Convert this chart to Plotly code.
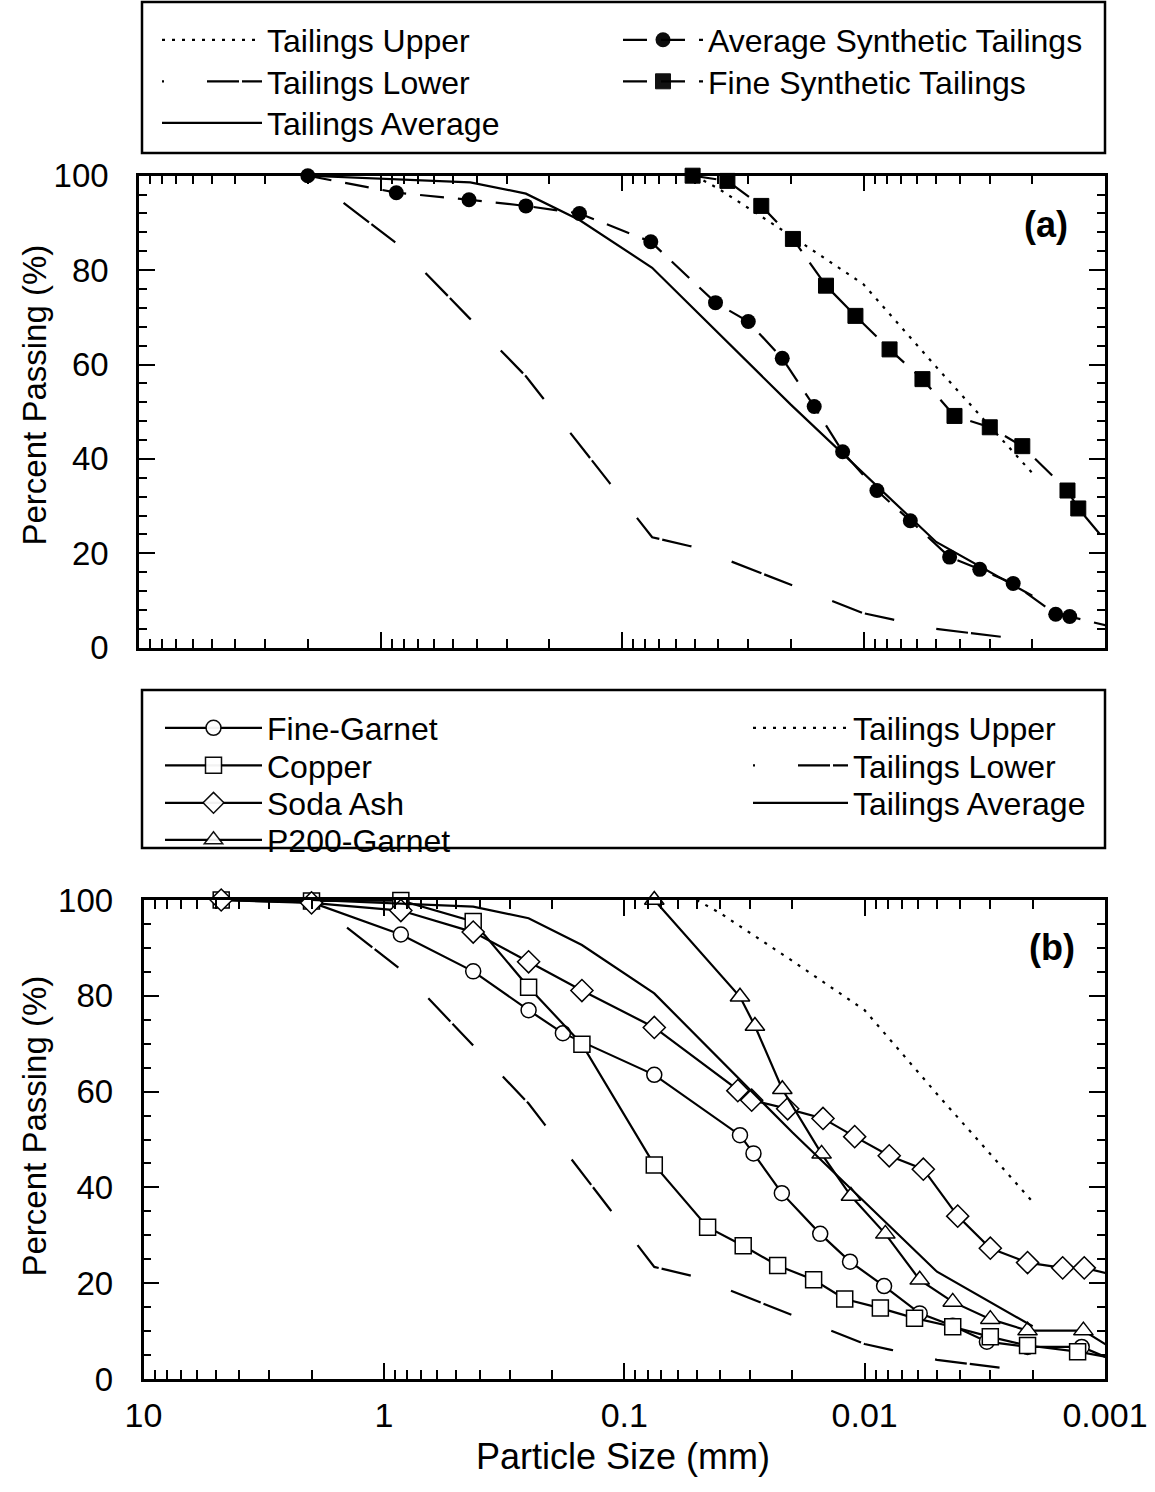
import plotly.graph_objects as go

W, H = 1155, 1492
FONT = "Liberation Sans, Arial, sans-serif"

# ---------------- data ----------------
# Tailings envelope (shared by both panels)
upper_x = [0.05, 0.04, 0.02, 0.01, 0.005, 0.002]
upper_y = [100, 97.3, 87.3, 77.0, 59.5, 37.0]
lower_x = [2.0, 0.85, 0.25, 0.075, 0.05, 0.01, 0.005, 0.002]
lower_y = [100, 85.5, 57.5, 23.4, 21.3, 7.3, 4.0, 1.5]
avg_x = [2.0, 0.425, 0.25, 0.15, 0.075, 0.02, 0.005, 0.002]
avg_y = [100, 98.6, 96.2, 90.6, 80.5, 51.5, 22.4, 11.0]

# Panel (a)
avgsyn_x = [2.0, 0.86, 0.43, 0.25, 0.15, 0.076, 0.041, 0.030, 0.0217, 0.016,
            0.0122, 0.0088, 0.0064, 0.0044, 0.0033, 0.0024, 0.0016, 0.0014, 0.0009]
avgsyn_y = [100, 96.4, 94.9, 93.6, 92.0, 86.0, 73.1, 69.1, 61.3, 51.1,
            41.5, 33.3, 26.9, 19.2, 16.6, 13.6, 7.1, 6.6, 4.2]
finesyn_x = [0.051, 0.0366, 0.0265, 0.0196, 0.0143, 0.0108, 0.0078, 0.0057,
             0.0042, 0.0030, 0.0022, 0.00143, 0.00129, 0.0009]
finesyn_y = [100, 98.9, 93.6, 86.6, 76.7, 70.3, 63.2, 56.9,
             49.1, 46.7, 42.7, 33.3, 29.5, 20.0]

# Panel (b)
garnet_x = [4.75, 2.0, 0.85, 0.425, 0.25, 0.18, 0.075, 0.033, 0.029, 0.0221,
            0.0153, 0.0115, 0.0083, 0.0059, 0.0043, 0.0031, 0.0021, 0.00125, 0.0008]
garnet_y = [100, 99.5, 92.8, 85.1, 77.0, 72.2, 63.5, 50.9, 47.1, 38.8,
            30.3, 24.5, 19.4, 13.7, 11.1, 7.8, 6.7, 6.7, 2.6]
copper_x = [4.75, 2.0, 0.85, 0.425, 0.25, 0.15, 0.075, 0.045, 0.032, 0.023,
            0.0163, 0.0121, 0.0086, 0.0062, 0.0043, 0.0030, 0.0021, 0.0013, 0.0008]
copper_y = [100, 99.8, 99.9, 95.5, 81.8, 69.9, 44.7, 31.7, 27.8, 23.7,
            20.7, 16.7, 14.8, 12.7, 10.9, 8.8, 7.0, 5.7, 3.8]
soda_x = [4.75, 2.0, 0.85, 0.425, 0.25, 0.15, 0.075, 0.0337, 0.0295, 0.0209,
          0.0149, 0.011, 0.0079, 0.0057, 0.0041, 0.0030, 0.0021, 0.0015, 0.00122, 0.0008]
soda_y = [100, 99.4, 97.8, 93.3, 87.1, 81.1, 73.4, 60.2, 58.2, 56.4,
          54.4, 50.6, 46.6, 43.8, 34.0, 27.3, 24.3, 23.2, 23.2, 21.0]
p200_x = [0.075, 0.033, 0.0286, 0.022, 0.0151, 0.0114, 0.0082, 0.0059,
          0.0043, 0.0030, 0.0021, 0.00123, 0.0008]
p200_y = [100, 79.8, 73.7, 60.5, 47.0, 38.2, 30.3, 20.7,
          16.1, 12.5, 10.1, 10.1, 4.3]

x_major = [10, 1, 0.1, 0.01, 0.001]
x_major_text = ["10", "1", "0.1", "0.01", "0.001"]
y_major = [0, 20, 40, 60, 80, 100]

# ---------------- helpers ----------------
def px_x(p):
    return p / W

def px_y(p):
    return 1 - p / H

def visible_opacity(xs):
    # points beyond the axis range only steer the (clipped) line
    return [1 if v >= 0.001 else 0 for v in xs]

DOT = "3px,7px"
LOWER_DASH = "2px,43px,32px,3px,28px,0px"
SYN_DASH = "24px,14px"
LW = 2.2

fig = go.Figure()
legends = {}

def add_legend(key, x_origin, y_center, itemwidth):
    legends[key] = dict(x=px_x(x_origin), y=px_y(y_center), xanchor="left",
                        yanchor="middle", bgcolor="rgba(0,0,0,0)", borderwidth=0,
                        font=dict(family=FONT, size=32, color="black"),
                        itemwidth=itemwidth, visible=True)

def tailing_traces(xa, ya, keys):
    fig.add_trace(go.Scatter(x=upper_x, y=upper_y, xaxis=xa, yaxis=ya, mode="lines",
                             name="Tailings Upper", legend=keys[0], showlegend=True,
                             line=dict(color="black", width=LW, dash=DOT)))
    fig.add_trace(go.Scatter(x=lower_x, y=lower_y, xaxis=xa, yaxis=ya, mode="lines",
                             name="Tailings Lower", legend=keys[1], showlegend=True,
                             line=dict(color="black", width=LW, dash=LOWER_DASH)))
    fig.add_trace(go.Scatter(x=avg_x, y=avg_y, xaxis=xa, yaxis=ya, mode="lines",
                             name="Tailings Average", legend=keys[2], showlegend=True,
                             line=dict(color="black", width=LW)))

# ---- panel (a) ----
top_rows = [40, 81.5, 123]
add_legend("legend", 157, top_rows[0], 100)
add_legend("legend2", 157, top_rows[1], 100)
add_legend("legend3", 157, top_rows[2], 100)
tailing_traces("x", "y", ["legend", "legend2", "legend3"])

add_legend("legend4", 618, top_rows[0], 80)
add_legend("legend5", 618, top_rows[1], 80)
fig.add_trace(go.Scatter(x=avgsyn_x, y=avgsyn_y, xaxis="x", yaxis="y", mode="lines+markers",
                         name="Average Synthetic Tailings", legend="legend4", showlegend=True,
                         cliponaxis=False,
                         line=dict(color="black", width=LW, dash=SYN_DASH),
                         marker=dict(symbol="circle", size=15, color="black",
                                     opacity=visible_opacity(avgsyn_x))))
fig.add_trace(go.Scatter(x=finesyn_x, y=finesyn_y, xaxis="x", yaxis="y", mode="lines+markers",
                         name="Fine Synthetic Tailings", legend="legend5", showlegend=True,
                         cliponaxis=False,
                         line=dict(color="black", width=LW, dash=SYN_DASH),
                         marker=dict(symbol="square", size=15, color="black",
                                     line=dict(color="black", width=1),
                                     opacity=visible_opacity(finesyn_x))))

# ---- panel (b) ----
bot_rows = [728, 765.5, 803, 840]
open_mk = dict(color="white", line=dict(color="black", width=1.5))
materials = [
    ("Fine-Garnet", garnet_x, garnet_y, "circle", 15),
    ("Copper", copper_x, copper_y, "square", 16),
    ("Soda Ash", soda_x, soda_y, "diamond", 17),
    ("P200-Garnet", p200_x, p200_y, "triangle-up", 17),
]
for i, (name, xs, ys, sym, sz) in enumerate(materials):
    key = "legend%d" % (6 + i)
    add_legend(key, 160, bot_rows[i], 97)
    fig.add_trace(go.Scatter(x=xs, y=ys, xaxis="x2", yaxis="y2", mode="lines+markers",
                             name=name, legend=key, showlegend=True, cliponaxis=False,
                             line=dict(color="black", width=LW),
                             marker=dict(symbol=sym, size=sz, opacity=visible_opacity(xs),
                                         **open_mk)))
for i in range(3):
    add_legend("legend%d" % (10 + i), 748, bot_rows[i], 95)
tailing_traces("x2", "y2", ["legend10", "legend11", "legend12"])

# ---------------- axes ----------------
minor_x = [m * 10 ** e for e in range(-3, 1) for m in range(2, 10)]

def xaxis_cfg(dom, anchor, labels):
    return dict(domain=dom, anchor=anchor, type="log", range=[1, -3],
                tickmode="array", tickvals=x_major, ticktext=x_major_text,
                showticklabels=labels, ticks="inside", ticklen=16, tickwidth=2,
                tickcolor="black", ticklabelstandoff=4,
                minor=dict(tickmode="array", tickvals=minor_x, ticks="inside",
                           ticklen=9, tickwidth=2, tickcolor="black", showgrid=False),
                showline=True, linewidth=2.5, linecolor="black", mirror="allticks",
                showgrid=False, zeroline=False, automargin=False,
                tickfont=dict(family=FONT, size=34, color="black"))

def yaxis_cfg(dom, anchor, mdt):
    return dict(domain=dom, anchor=anchor, range=[0, 100],
                tickmode="array", tickvals=y_major,
                ticks="inside", ticklen=16, tickwidth=2, tickcolor="black",
                ticklabelstandoff=21,
                minor=dict(dtick=mdt, ticks="inside", ticklen=8, tickwidth=2,
                           tickcolor="black", showgrid=False),
                showline=True, linewidth=2.5, linecolor="black", mirror="allticks",
                showgrid=False, zeroline=False, automargin=False,
                tickfont=dict(family=FONT, size=33, color="black"))

def note(text, x, y, size, angle=0):
    return dict(text=text, xref="paper", yref="paper", x=px_x(x), y=px_y(y),
                xanchor="center", yanchor="middle", textangle=angle, showarrow=False,
                font=dict(family=FONT, size=size, color="black"))

fig.update_layout(
    width=W, height=H,
    margin=dict(l=0, r=0, t=0, b=0),
    showlegend=True,
    paper_bgcolor="white", plot_bgcolor="white",
    font=dict(family=FONT, color="black"),
    xaxis=xaxis_cfg([px_x(139), px_x(1105)], "y", False),
    yaxis=yaxis_cfg([px_y(647.7), px_y(175.7)], "x", 4),
    xaxis2=xaxis_cfg([px_x(143.5), px_x(1105)], "y2", True),
    yaxis2=yaxis_cfg([px_y(1379), px_y(900)], "x2", 5),
    shapes=[
        dict(type="rect", xref="paper", yref="paper", x0=px_x(142), x1=px_x(1105),
             y0=px_y(153), y1=px_y(2), line=dict(color="black", width=2.5)),
        dict(type="rect", xref="paper", yref="paper", x0=px_x(142), x1=px_x(1105),
             y0=px_y(848), y1=px_y(690), line=dict(color="black", width=2.5)),
    ],
    annotations=[
        note("<b>(a)</b>", 1046, 225, 36),
        note("<b>(b)</b>", 1052, 947, 36),
        note("Percent Passing (%)", 33.5, 395, 33, -90),
        note("Percent Passing (%)", 33.5, 1126, 33, -90),
        note("Particle Size (mm)", 623, 1456, 36),
    ],
)
fig.update_layout(**legends)

fig.write_html("out.html")
